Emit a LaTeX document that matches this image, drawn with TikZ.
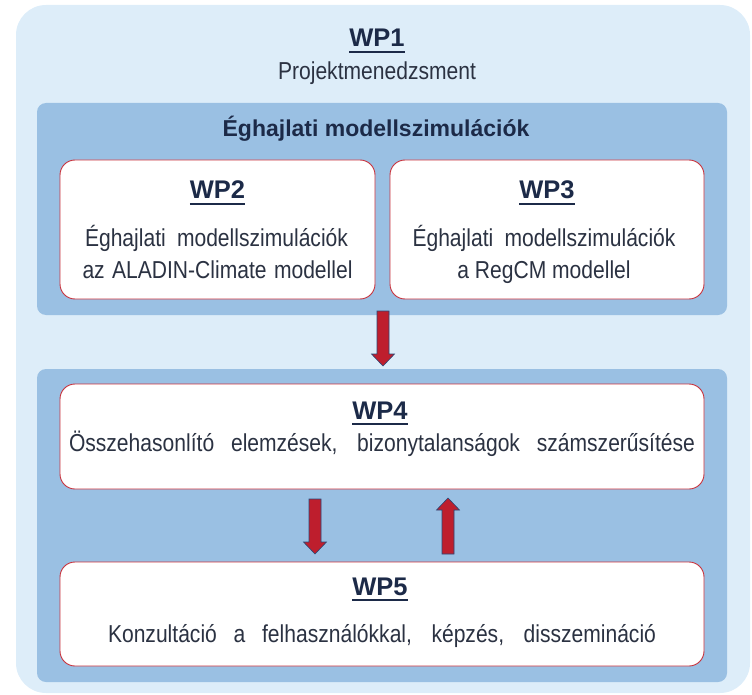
\documentclass[tikz,border=0pt]{standalone}
\usepackage{fontspec}
\setmainfont{Liberation Sans}
\newfontfamily\narrowfont[FakeStretch=0.86]{Liberation Sans}
\usetikzlibrary{calc}
\definecolor{paleblue}{HTML}{DDEDF9}
\definecolor{midblue}{HTML}{9AC0E3}
\definecolor{wpred}{HTML}{C8323C}
\definecolor{navy}{HTML}{1C2A48}
\definecolor{bodygrey}{HTML}{2B3242}
\definecolor{arrowred}{HTML}{BE1E2D}
\definecolor{arrowedge}{HTML}{2A4775}
\newsavebox{\wpsave}
\newcommand{\wptitle}[1]{\sbox\wpsave{#1}\rlap{\raisebox{-6pt}{\rule{\wd\wpsave}{2pt}}}\usebox\wpsave}
\newcommand{\jline}[2]{\makebox[#1][s]{#2}}
\tikzset{
  wpouter/.style={fill=paleblue, rounded corners=30pt, inner sep=0pt, outer sep=0pt},
  wpgroup/.style={fill=midblue, rounded corners=9pt, inner sep=0pt, outer sep=0pt},
  wpbox/.style={fill=white, draw=wpred, line width=0.9pt, rounded corners=15pt, inner sep=0pt, outer sep=0pt},
  wphead/.style={anchor=base, inner sep=0pt, text=navy, font=\fontsize{25.5}{30}\selectfont\bfseries},
  wpsub/.style={anchor=base, inner sep=0pt, text=navy, font=\fontsize{23}{28}\selectfont\bfseries},
  wptext/.style={anchor=base, inner sep=0pt, text=bodygrey, font=\fontsize{24.5}{29}\selectfont\narrowfont},
  fatarrow/.style={fill=arrowred, draw=arrowedge, line width=0.6pt,
    to path={let \p1=(\tikztostart), \p2=(\tikztotarget), \n1={sign(\y2-\y1)} in
      (\x1-6pt,\y1) -- (\x1-6pt,\y2-\n1*12pt) -- (\x1-11.5pt,\y2-\n1*12pt) -- (\x1,\y2)
      -- (\x1+11.5pt,\y2-\n1*12pt) -- (\x1+6pt,\y2-\n1*12pt) -- (\x1+6pt,\y1) -- cycle}}
}
\begin{document}
\begin{tikzpicture}[x=1pt, y=-1pt]
	\useasboundingbox (0,0) rectangle (752,695);
	% WP1
	\node[wpouter, minimum width=734pt, minimum height=688pt] (wp1box) at (383,349) {};
	\node[wphead] (wp1) at ($(wp1box.north)+(-6,42)$) {\wptitle{WP1}};
	\node[wptext] (wp1text) at ($(wp1box.north)+(-6,75)$) {Projektmenedzsment};
	% szimulaciok
	\node[wpgroup, minimum width=690pt, minimum height=212pt] (simbox) at (382,209) {};
	\node[wpsub] (simhead) at ($(simbox.north)+(-6,34)$) {Éghajlati modellszimulációk};
	\node[wpbox, minimum width=315pt, minimum height=139pt] (wp2) at (217.5,229.5) {};
	\node[wpbox, minimum width=314pt, minimum height=139pt] (wp3) at (547,229.5) {};
	\node[wphead] (wp2title) at ($(wp2.north)+(0,39)$) {\wptitle{WP2}};
	\node[wptext] (wp2a) at ($(wp2.north)+(-1,87)$) {\jline{263pt}{Éghajlati modellszimulációk}};
	\node[wptext] (wp2b) at ($(wp2.north)+(0,118)$) {\jline{270pt}{az ALADIN-Climate modellel}};
	\node[wphead] (wp3title) at ($(wp3.north)+(0,39)$) {\wptitle{WP3}};
	\node[wptext] (wp3a) at ($(wp3.north)+(-3,87)$) {\jline{263pt}{Éghajlati modellszimulációk}};
	\node[wptext] (wp3b) at ($(wp3.north)+(-3,118)$) {a RegCM modellel};
	% ertekeles
	\node[wpgroup, minimum width=690pt, minimum height=313pt] (evalbox) at (382,525.5) {};
	\node[wpbox, minimum width=644pt, minimum height=105pt] (wp4) at (382,436.5) {};
	\node[wpbox, minimum width=644pt, minimum height=104pt] (wp5) at (382,614) {};
	\node[wphead] (wp4title) at ($(wp4.north)+(-2,35)$) {\wptitle{WP4}};
	\node[wptext] (wp4text) at ($(wp4.north)+(0,67)$) {\jline{626pt}{Összehasonlító elemzések, bizonytalanságok számszerűsítése}};
	\node[wphead] (wp5title) at ($(wp5.north)+(-2,33)$) {\wptitle{WP5}};
	\node[wptext] (wp5text) at ($(wp5.north)+(0,80)$) {\jline{548pt}{Konzultáció a felhasználókkal, képzés, disszemináció}};
	% nyilak
	\draw[fatarrow] ($(simbox.south)+(1,-4)$) to ($(evalbox.north)+(1,-3)$);
	\draw[fatarrow] ($(wp4.south)+(-67,10)$) to ($(wp5.north)+(-67,-8)$);
	\draw[fatarrow] ($(wp5.north)+(66,-8)$) to ($(wp4.south)+(66,9)$);
\end{tikzpicture}
\end{document}
